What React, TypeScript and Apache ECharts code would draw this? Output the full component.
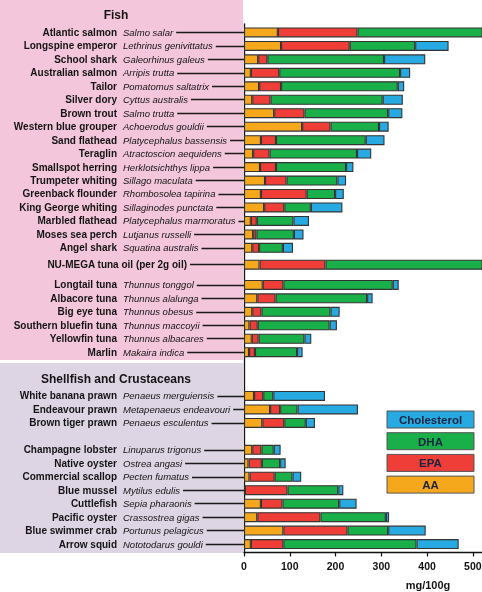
import React, { useEffect, useRef } from "react";
import * as echarts from "echarts";

// Row labels, top to bottom
const commonNames = [
  "Atlantic salmon", "Longspine emperor", "School shark", "Australian salmon", "Tailor",
  "Silver dory", "Brown trout", "Western blue grouper", "Sand flathead", "Teraglin",
  "Smallspot herring", "Trumpeter whiting", "Greenback flounder", "King George whiting",
  "Marbled flathead", "Moses sea perch", "Angel shark",
  "NU-MEGA tuna oil (per 2g oil)",
  "Longtail tuna", "Albacore tuna", "Big eye tuna", "Southern bluefin tuna", "Yellowfin tuna", "Marlin",
  "White banana prawn", "Endeavour prawn", "Brown tiger prawn",
  "Champagne lobster", "Native oyster", "Commercial scallop", "Blue mussel", "Cuttlefish",
  "Pacific oyster", "Blue swimmer crab", "Arrow squid",
];
const sciNames = [
  "Salmo salar", "Lethrinus genivittatus", "Galeorhinus galeus", "Arripis trutta", "Pomatomus saltatrix",
  "Cyttus australis", "Salmo trutta", "Achoerodus gouldii", "Platycephalus bassensis", "Atractoscion aequidens",
  "Herklotsichthys lippa", "Sillago maculata", "Rhombosolea tapirina", "Sillaginodes punctata",
  "Platycephalus marmoratus", "Lutjanus russelli", "Squatina australis",
  "",
  "Thunnus tonggol", "Thunnus alalunga", "Thunnus obesus", "Thunnus maccoyii", "Thunnus albacares", "Makaira indica",
  "Penaeus merguiensis", "Metapenaeus endeavouri", "Penaeus esculentus",
  "Linuparus trigonus", "Ostrea angasi", "Pecten fumatus", "Mytilus edulis", "Sepia pharaonis",
  "Crassostrea gigas", "Portunus pelagicus", "Nototodarus gouldi",
];

// mg/100g
const aa = [74, 81, 31, 15, 33, 18, 66, 127, 37, 20, 35, 46, 37, 44, 15, 20, 18, 34, 41, 29, 18, 12, 17, 11, 22, 57, 40, 18, 10, 12, 2, 37, 29, 86, 15];
const epa = [174, 150, 20, 62, 48, 40, 66, 62, 33, 36, 35, 47, 100, 44, 13, 7, 15, 144, 45, 40, 20, 18, 15, 13, 20, 22, 48, 20, 29, 55, 93, 47, 138, 140, 71];
const dha = [300, 143, 255, 264, 255, 245, 183, 106, 196, 191, 153, 111, 62, 58, 80, 82, 52, 420, 239, 200, 151, 157, 100, 92, 22, 38, 47, 27, 40, 39, 111, 124, 143, 89, 291];
const cholesterol = [50, 73, 90, 22, 14, 44, 31, 21, 41, 31, 16, 19, 19, 69, 34, 21, 22, 0, 13, 12, 20, 16, 15, 12, 113, 132, 20, 15, 12, 19, 11, 38, 7, 82, 92];

const xTicks = [0, 100, 200, 300, 400, 500];

// Row groups: fish, tuna oil, tunas, prawns, other shellfish
const blockLengths = [17, 1, 6, 3, 8];
const blockStartSlot = [2, 71, 77, 110, 126];
const SLOTS = 157;
const SHELLFISH_FROM = 24;

const PINK = "#f3c6db";
const LAVENDER = "#ddd4e4";
const FONT = "'Liberation Sans', Arial, sans-serif";

const seriesDefs = [
  { name: "AA", color: "#f6a81d", values: aa },
  { name: "EPA", color: "#ee3e37", values: epa },
  { name: "DHA", color: "#19b04a", values: dha },
  { name: "Cholesterol", color: "#27aae1", values: cholesterol },
];

const rowSlot: number[] = [];
blockLengths.forEach((len, b) => {
  for (let k = 0; k < len; k++) rowSlot.push(blockStartSlot[b] + 4 * k);
});
const slotRow: number[] = new Array(SLOTS).fill(-1);
rowSlot.forEach((s, i) => (slotRow[s] = i));
const categories = slotRow.map((_, i) => "s" + i);
const rowOf = (v: string) => slotRow[Number(v.slice(1))];

export default function App() {
  const ref = useRef<HTMLDivElement>(null);

  useEffect(() => {
    if (!ref.current) return;
    const chart = echarts.init(ref.current, null, { renderer: "svg" });

    const gridLeft = 244;
    const legendX = 387;
    const legendY = 411;
    const legendElements: any[] = [];
    [...seriesDefs].reverse().forEach((s, i) => {
      legendElements.push({
        type: "rect",
        shape: { x: legendX, y: legendY + i * 21.7, width: 87, height: 17 },
        style: { fill: s.color, stroke: "#555", lineWidth: 1 },
        z: 10,
      });
      legendElements.push({
        type: "text",
        x: legendX + 43.5,
        y: legendY + i * 21.7 + 9,
        style: {
          text: s.name, fill: "#1b2442", font: `bold 11.5px ${FONT}`,
          align: "center", verticalAlign: "middle",
        },
        z: 11,
      });
    });

    const baseY = {
      type: "category",
      data: categories,
      inverse: true,
      position: "left",
      offset: 0,
      axisLine: { show: false },
      axisTick: { show: false },
      splitLine: { show: false },
    };

    chart.setOption({
      animation: false,
      grid: { left: gridLeft, right: 0, top: 24, bottom: 39.5, containLabel: false, outerBoundsMode: "none" },
      xAxis: {
        type: "value",
        min: 0,
        max: 520,
        interval: 100,
        splitLine: { show: false },
        axisLine: { show: true, lineStyle: { color: "#111", width: 1.3 } },
        axisTick: { show: true, length: 4, lineStyle: { color: "#111", width: 1.2 } },
        axisLabel: {
          showMaxLabel: false,
          margin: 8,
          color: "#111",
          fontFamily: FONT,
          fontWeight: "bold",
          fontSize: 10.5,
          formatter: (v: number) => (xTicks.includes(v) ? String(v) : ""),
        },
      },
      yAxis: [
        {
          ...baseY,
          z: 1,
          axisLine: { show: true, lineStyle: { color: "#111", width: 1.3 } },
          axisTick: {
            show: true,
            alignWithLabel: true,
            length: 121,
            interval: (i: number) => slotRow[i] >= 0,
            lineStyle: { color: "#1a1a1a", width: 1.4 },
          },
          axisLabel: { show: false },
        },
        {
          ...baseY,
          z: 5,
          axisLabel: {
            interval: 0,
            margin: 127,
            color: "#141414",
            fontFamily: FONT,
            fontWeight: "bold",
            fontSize: 10,
            formatter: (v: string) => {
              const r = rowOf(v);
              return r >= 0 && sciNames[r] ? commonNames[r] : "";
            },
          },
        },
        {
          ...baseY,
          z: 5,
          axisLabel: {
            interval: 0,
            margin: 121,
            align: "left",
            formatter: (v: string) => {
              const r = rowOf(v);
              if (r < 0 || !sciNames[r]) return "";
              return `{${r >= SHELLFISH_FROM ? "s" : "f"}|${sciNames[r]}}`;
            },
            rich: {
              f: {
                fontStyle: "italic", fontSize: 9.5, fontFamily: FONT, color: "#141414",
                backgroundColor: PINK, padding: [1, 3, 1, 0],
              },
              s: {
                fontStyle: "italic", fontSize: 9.5, fontFamily: FONT, color: "#141414",
                backgroundColor: LAVENDER, padding: [1, 3, 1, 0],
              },
            },
          },
        },
        {
          ...baseY,
          z: 5,
          axisLabel: {
            interval: 0,
            margin: 54,
            formatter: (v: string) => {
              const r = rowOf(v);
              return r >= 0 && !sciNames[r] ? `{o|${commonNames[r]}}` : "";
            },
            rich: {
              o: {
                fontWeight: "bold", fontSize: 10, fontFamily: FONT, color: "#141414",
                backgroundColor: PINK, padding: [1, 3, 1, 0],
              },
            },
          },
        },
      ],
      series: seriesDefs.map((s) => ({
        name: s.name,
        type: "bar",
        stack: "total",
        yAxisIndex: 0,
        barWidth: 10,
        clip: true,
        itemStyle: { color: s.color, borderColor: "#333", borderWidth: 1.1 },
        data: slotRow.map((r) => (r < 0 ? null : s.values[r])),
      })),
      graphic: {
        elements: [
          { type: "rect", shape: { x: 0, y: 0, width: 243, height: 360 }, style: { fill: PINK }, z: -10 },
          { type: "rect", shape: { x: 0, y: 363, width: 243, height: 190 }, style: { fill: LAVENDER }, z: -10 },
          {
            type: "text", x: 116, y: 15,
            style: { text: "Fish", fill: "#141414", font: `bold 12px ${FONT}`, align: "center", verticalAlign: "middle" },
            z: 10,
          },
          {
            type: "text", x: 116, y: 379,
            style: { text: "Shellfish and Crustaceans", fill: "#141414", font: `bold 12px ${FONT}`, align: "center", verticalAlign: "middle" },
            z: 10,
          },
          {
            type: "text", x: 428, y: 585,
            style: { text: "mg/100g", fill: "#141414", font: `bold 11px ${FONT}`, align: "center", verticalAlign: "middle" },
            z: 10,
          },
          ...legendElements,
        ],
      },
    });

    return () => chart.dispose();
  }, []);

  return <div ref={ref} style={{ position: "fixed", left: 0, top: 0, width: 482, height: 592 }} />;
}
